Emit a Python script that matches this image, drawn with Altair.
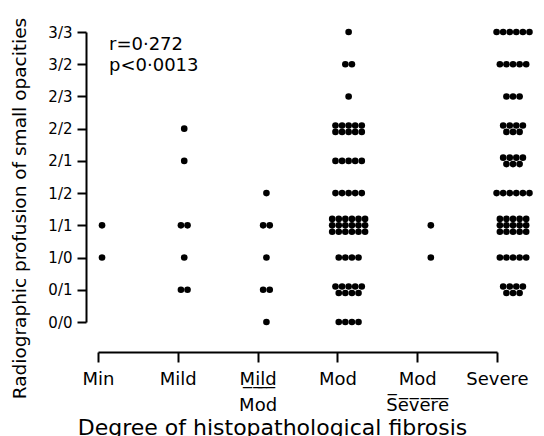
import math
import altair as alt
import pandas as pd

# ---- data ----
levels = ["0/0", "0/1", "1/0", "1/1", "1/2", "2/1", "2/2", "2/3", "3/2", "3/3"]
categories = ["Min", "Mild", "Mild/Mod", "Mod", "Mod/Severe", "Severe"]
axis_labels = ["Min", "Mild", "M\u0332i\u0332l\u0332d\u0332\nMod", "Mod",
               "Mod\nS\u0305e\u0305v\u0305e\u0305r\u0305e\u0305", "Severe"]

# number of cases per profusion level (0/0 ... 3/3) for each fibrosis grade
min_counts = [0, 0, 1, 1, 0, 0, 0, 0, 0, 0]
mild_counts = [0, 2, 1, 2, 0, 1, 1, 0, 0, 0]
mild_mod_counts = [1, 2, 1, 2, 1, 0, 0, 0, 0, 0]
mod_counts = [4, 9, 4, 18, 5, 5, 10, 1, 2, 1]
mod_severe_counts = [0, 0, 1, 1, 0, 0, 0, 0, 0, 0]
severe_counts = [0, 7, 5, 15, 6, 7, 7, 3, 5, 6]

stat_lines = ["r=0\u00b7272", "p<0\u00b70013"]

all_counts = [min_counts, mild_counts, mild_mod_counts, mod_counts,
              mod_severe_counts, severe_counts]

# ---- arrange dots of each cell in small clusters (dot-plot layout) ----
DX = 0.080   # horizontal step between dots, in category units
DY = 0.20    # vertical step between cluster rows, in level units
rows = []
for ci, counts in enumerate(all_counts):
    for li, n in enumerate(counts):
        if n == 0:
            continue
        nrows = math.ceil(n / 6)
        per = math.ceil(n / nrows)
        remaining = n
        for r in range(nrows):
            k = min(per, remaining)
            remaining -= k
            for j in range(k):
                rows.append({
                    "grade": categories[ci],
                    "level": levels[li],
                    "xpos": ci + (j - (k - 1) / 2) * DX,
                    "ypos": li - (r - (nrows - 1) / 2) * DY,
                })
dots_df = pd.DataFrame(rows)
axis_df = pd.DataFrame({"idx": list(range(len(categories))), "grade": categories})

FONT = "DejaVu Sans"
level_expr = "[" + ",".join("'" + l + "'" for l in levels) + "][datum.value]"
label_expr = "split([" + ",".join("'" + l.replace("\n", "\\n") + "'" for l in axis_labels) + "][datum.value], '\\n')"

xdots = alt.Scale(domain=[-0.049, 4.805], nice=False, zero=False)
yscale = alt.Scale(domain=[0, 9], nice=False, zero=False)
yaxis = alt.Axis(values=list(range(10)), labelExpr=level_expr, offset=12,
                 orient="left", grid=False,
                 tickSize=9, tickWidth=2, domainWidth=2, labelFontSize=15,
                 labelPadding=5, labelOverlap=False, labelFlush=False,
                 title="Radiographic profusion of small opacities",
                 titleFontSize=18.5, titleFontWeight="normal",
                 titleX=-67, titleY=176, titleBaseline="middle")

dots = alt.Chart(dots_df).mark_circle(size=44, color="black", opacity=1, clip=False).encode(
    x=alt.X("xpos:Q", scale=xdots, axis=None),
    y=alt.Y("ypos:Q", scale=yscale, axis=yaxis),
)

anno = alt.Chart(pd.DataFrame({"a": [0]})).mark_text(
    text=stat_lines, align="left", baseline="top", fontSize=18, lineHeight=21,
    font=FONT, color="black"
).encode(
    x=alt.XDatum(0.085, type="quantitative", scale=xdots, axis=None),
    y=alt.YDatum(8.88, type="quantitative", scale=yscale, axis=yaxis),
)

inner = alt.layer(dots, anno)

xaxis_layer = alt.Chart(axis_df).mark_point(opacity=0).encode(
    x=alt.X("idx:Q", scale=alt.Scale(domain=[0, 5], nice=False, zero=False),
            axis=alt.Axis(values=list(range(6)), labelExpr=label_expr, offset=30,
                          orient="bottom", grid=False,
                          tickSize=10, tickWidth=2, domainWidth=2, labelFontSize=18,
                          labelPadding=8, labelLineHeight=26, labelAngle=0,
                          labelOverlap=False, labelFlush=False,
                          title="Degree of histopathological fibrosis",
                          titleFontSize=22, titleFontWeight="normal",
                          titleX=174, titleY=65, titleBaseline="top")),
)

chart = alt.layer(inner, xaxis_layer).resolve_scale(x="independent").properties(
    width=399, height=290,
    background="white",
    autosize=alt.AutoSizeParams(type="none"),
    padding={"left": 90, "top": 24, "right": 38, "bottom": 114},
).configure_view(stroke=None).configure_axis(
    grid=False, domainColor="black", tickColor="black", labelColor="black",
    titleColor="black", labelFont=FONT, titleFont=FONT,
)

chart.save("out.html", embed_options={"renderer": "svg", "actions": False})
